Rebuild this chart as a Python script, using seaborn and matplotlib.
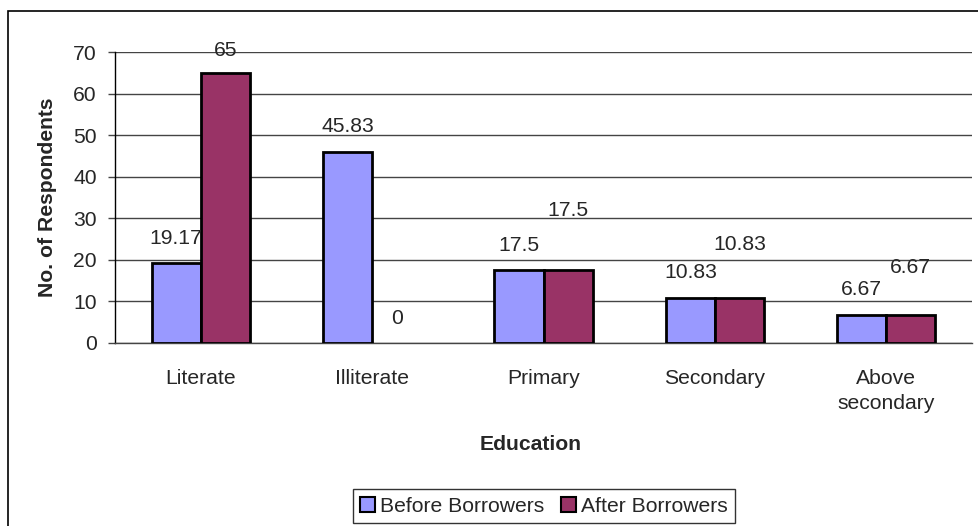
import matplotlib
matplotlib.use("Agg")
import matplotlib.pyplot as plt
from matplotlib.patches import Rectangle
import seaborn as sns
import pandas as pd

# Respondents by education level, before and after borrowing
categories = ["Literate", "Illiterate", "Primary", "Secondary", "Above\nsecondary"]
before_values = [19.17, 45.83, 17.5, 10.83, 6.67]
after_values = [65, 0, 17.5, 10.83, 6.67]
series_names = ["Before Borrowers", "After Borrowers"]
y_ticks = [0, 10, 20, 30, 40, 50, 60, 70]

# vertical lift (pixels) of each value label above its bar top
before_label_lift = [25, 26, 25, 25, 26]
after_label_lift = [22, 25, 60, 53, 48]

df = pd.DataFrame({
    "Education": categories * 2,
    "Value": before_values + after_values,
    "Series": [series_names[0]] * len(categories) + [series_names[1]] * len(categories),
})

sns.set_style("white")
plt.rcParams["font.family"] = ["Liberation Sans", "DejaVu Sans"]
FS = 15.2

W, H = 979, 526
fig = plt.figure(figsize=(W / 100, H / 100), dpi=100)
ax = fig.add_axes([115 / W, 1 - 343 / H, (972 - 115) / W, (343 - 52) / H])

palette = {"Before Borrowers": "#9999FF", "After Borrowers": "#993366"}
sns.barplot(data=df, x="Education", y="Value", hue="Series", palette=palette,
            width=0.573, gap=0, dodge=True, edgecolor="black", linewidth=2.0,
            saturation=1, ax=ax, legend=True, zorder=3)

# zero-height bars leave no outline
for container in ax.containers:
    for bar in container:
        if bar.get_height() == 0:
            bar.set_linewidth(0)

ax.set_xlim(-0.5, len(categories) - 0.5)
ax.set_ylim(0, 70)
ax.set_yticks(y_ticks)
ax.set_yticklabels([str(t) for t in y_ticks], fontsize=FS)
ax.yaxis.grid(True, color="#444444", linewidth=1.0, zorder=0)
ax.xaxis.grid(False)

# category ticks sit between the groups
ax.set_xticks(range(len(categories)))
ax.set_xticklabels(categories, fontsize=FS, linespacing=1.35)
ax.set_xticks([i - 0.5 for i in range(len(categories) + 1)], minor=True)
ax.tick_params(axis="x", which="major", length=0, pad=19)
ax.tick_params(axis="x", which="minor", length=5, width=1, color="#444444", direction="out")
ax.tick_params(axis="y", length=5, width=1, color="#444444", direction="out", left=True, pad=8)

for side in ["top", "right"]:
    ax.spines[side].set_visible(False)
ax.spines["left"].set_color("black")
ax.spines["left"].set_linewidth(1.0)
ax.spines["bottom"].set_color("#444444")
ax.spines["bottom"].set_linewidth(1.0)

ax.set_xlabel("Education", fontsize=FS, fontweight="bold")
ax.xaxis.set_label_coords(0.485, (343 - 445) / (343 - 52))
ax.xaxis.label.set_va("center")
ax.set_ylabel("No. of Respondents", fontsize=FS, fontweight="bold")
ax.yaxis.set_label_coords((48 - 115) / (972 - 115), 0.5)
ax.yaxis.label.set_va("center")

# value labels above each bar
px_to_pt = 72 / 100
for container, lifts in zip(ax.containers, [before_label_lift, after_label_lift]):
    for bar, lift in zip(container, lifts):
        val = bar.get_height()
        ax.annotate(f"{val:g}", (bar.get_x() + bar.get_width() / 2, val),
                    xytext=(0, lift * px_to_pt), textcoords="offset points",
                    ha="center", va="center", fontsize=FS, annotation_clip=False,
                    zorder=5)

# legend in a plain box below the chart
handles, labels = ax.get_legend_handles_labels()
ax.get_legend().remove()
leg = fig.legend(handles, labels, loc="center", bbox_to_anchor=(544 / W, 1 - 506 / H),
                 ncol=2, frameon=True, fancybox=False, fontsize=FS,
                 handlelength=0.7, handleheight=0.7, handletextpad=0.25,
                 columnspacing=0.8, borderpad=0.35, borderaxespad=0)
leg.get_frame().set_edgecolor("black")
leg.get_frame().set_linewidth(1.0)
for h in leg.legend_handles:
    h.set_edgecolor("black")
    h.set_linewidth(1.5)

# outer chart-area border
fig.patches.append(Rectangle((8 / W, -0.1), 1.2, 1 - 11 / H + 0.1,
                             transform=fig.transFigure, fill=False,
                             edgecolor="black", linewidth=1.2, clip_on=False))

fig.savefig("out.png", dpi=100)
